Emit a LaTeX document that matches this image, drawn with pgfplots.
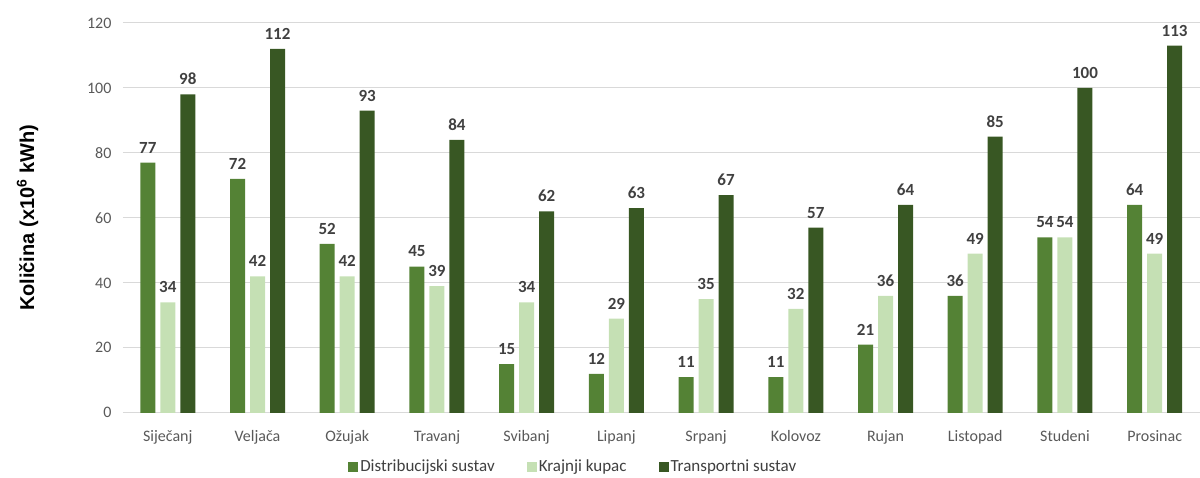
\documentclass[border=0pt]{standalone}
\usepackage{pgfplots}
\pgfplotsset{compat=1.18}
\usepackage{fontspec}
\setmainfont{Carlito}
\newfontfamily\arialfont{Liberation Sans}
\definecolor{cDist}{HTML}{548235}
\definecolor{cKraj}{HTML}{C5E0B4}
\definecolor{cTran}{HTML}{385723}
\definecolor{cGrid}{HTML}{D9D9D9}
\definecolor{cTick}{HTML}{595959}
\definecolor{cLab}{HTML}{404040}
\begin{document}
\begin{tikzpicture}
\begin{axis}[
  name=ax,
  scale only axis,
  width=1077pt, height=390pt,
  xmin=-0.5, xmax=11.5,
  ymin=0, ymax=120,
  ytick={0,20,...,120},
  xtick={0,...,11},
  xticklabels={Siječanj,Veljača,Ožujak,Travanj,Svibanj,Lipanj,Srpanj,Kolovoz,Rujan,Listopad,Studeni,Prosinac},
  axis line style={draw=none},
  major tick length=0pt,
  ymajorgrids, grid style={cGrid, line width=1pt},
  ticklabel style={font=\fontsize{16}{19}\selectfont, text=cTick},
  /pgf/number format/assume math mode=true,
  yticklabel style={xshift=-8pt},
  xticklabel style={yshift=-14pt},
  ylabel={\arialfont\bfseries Količina (x10\textsuperscript{6} kWh)},
  ylabel style={font=\fontsize{20}{24}\selectfont, text=black},
  ylabel shift=42pt,
  ybar, bar width=15pt,
  nodes near coords,
  every node near coord/.append style={font=\fontsize{17}{20}\selectfont\bfseries, text=cLab, yshift=6pt},
  legend style={at={(0.5,0)}, anchor=center, yshift=-54pt, xshift=-88pt, draw=none, legend columns=3,
    font=\fontsize{17}{20}\selectfont, text=cLab,
    /tikz/every even column/.append style={column sep=30pt}},
  legend image code/.code={\fill[#1,draw=none] (0pt,-5pt) rectangle (10pt,5pt);},
  legend cell align=left,
]
\addplot[fill=cDist, draw=none, bar shift=-20pt] coordinates {(0,77)(1,72)(2,52)(3,45)(4,15)(5,12)(6,11)(7,11)(8,21)(9,36)(10,54)(11,64)};
\addplot[fill=cKraj, draw=none, bar shift=0pt] coordinates {(0,34)(1,42)(2,42)(3,39)(4,34)(5,29)(6,35)(7,32)(8,36)(9,49)(10,54)(11,49)};
\addplot[fill=cTran, draw=none, bar shift=20pt] coordinates {(0,98)(1,112)(2,93)(3,84)(4,62)(5,63)(6,67)(7,57)(8,64)(9,85)(10,100)(11,113)};
\legend{Distribucijski sustav, Krajnji kupac, Transportni sustav}
\end{axis}
\path[use as bounding box] ([shift={(-123pt,-65pt)}]ax.south west) rectangle ([shift={(0pt,23pt)}]ax.north east);
\end{tikzpicture}
\end{document}
